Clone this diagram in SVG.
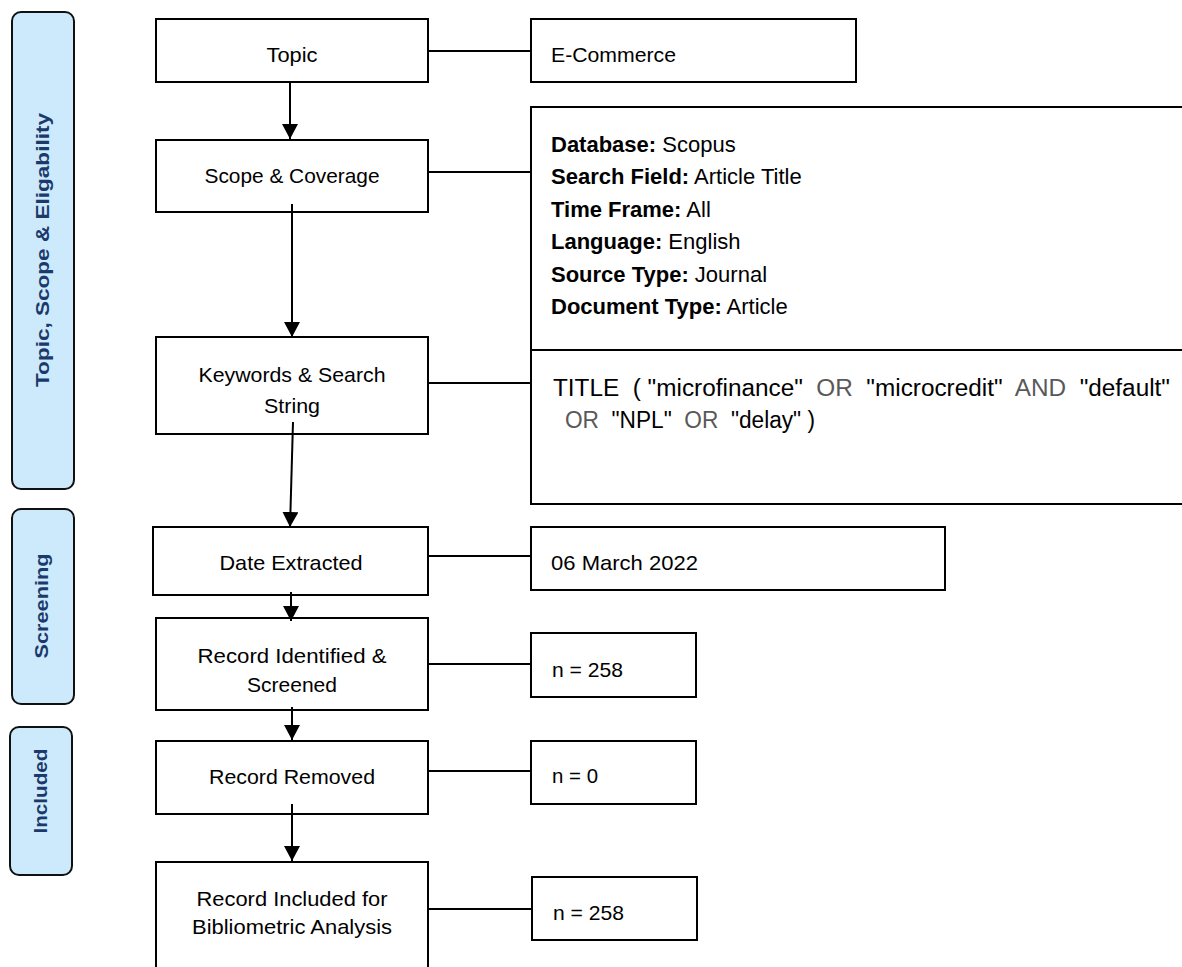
<svg xmlns="http://www.w3.org/2000/svg" width="1182" height="967" viewBox="0 0 1182 967">
<style>
.box{fill:#fff;stroke:#000;stroke-width:2}
.lab{fill:#cdeafc;stroke:#111;stroke-width:2}
.t{font-family:"Liberation Sans",Arial,sans-serif;font-size:21px;fill:#000}
.d{font-family:"Liberation Sans",Arial,sans-serif;font-size:22px;fill:#000}
.k{font-family:"Liberation Sans",Arial,sans-serif;font-size:23px;fill:#000}
.c{text-anchor:middle}
.b{font-weight:bold}
.g{fill:#595959}
.lt{font-family:"Liberation Sans",Arial,sans-serif;font-weight:bold;font-size:19px;fill:#1b3a6b;text-anchor:middle}
.conn line{stroke:#000;stroke-width:2;fill:none}
</style>
<defs>
<marker id="ah" viewBox="0 0 15 16" refX="15" refY="8" markerWidth="15" markerHeight="16" markerUnits="userSpaceOnUse" orient="auto">
<path d="M0,0 L15,8 L0,16 z" fill="#000"/>
</marker>
</defs>
<rect x="0" y="0" width="1182" height="967" fill="#fff"/>

<g id="label-topic">
<rect class="lab" x="12" y="12" width="62" height="477" rx="9"/>
<text class="lt" transform="translate(49,250) rotate(-90)" textLength="274" lengthAdjust="spacingAndGlyphs">Topic, Scope &amp; Eligability</text>
</g>
<g id="label-screening">
<rect class="lab" x="12" y="509" width="62" height="195" rx="9"/>
<text class="lt" transform="translate(48,606) rotate(-90)" textLength="105" lengthAdjust="spacingAndGlyphs">Screening</text>
</g>
<g id="label-included">
<rect class="lab" x="10" y="727" width="62" height="148" rx="9"/>
<text class="lt" transform="translate(47,791) rotate(-90)" textLength="85" lengthAdjust="spacingAndGlyphs">Included</text>
</g>

<g id="topic">
<rect class="box" x="156" y="19" width="272" height="63"/>
<text class="t c" x="292" y="62" textLength="51" lengthAdjust="spacingAndGlyphs">Topic</text>
</g>
<g id="ecommerce">
<rect class="box" x="531" y="19" width="325" height="63"/>
<text class="t" x="551" y="62" textLength="125" lengthAdjust="spacingAndGlyphs">E-Commerce</text>
</g>
<g id="scope">
<rect class="box" x="156" y="140" width="272" height="72"/>
<text class="t c" x="292" y="183" textLength="175" lengthAdjust="spacingAndGlyphs">Scope &amp; Coverage</text>
</g>
<g id="database">
<rect class="box" x="531" y="107" width="700" height="243"/>
<text class="d" x="551" y="152"><tspan class="b">Database:</tspan> Scopus</text>
<text class="d" x="551" y="184"><tspan class="b">Search Field:</tspan> Article Title</text>
<text class="d" x="551" y="217"><tspan class="b">Time Frame:</tspan> All</text>
<text class="d" x="551" y="249"><tspan class="b">Language:</tspan> English</text>
<text class="d" x="551" y="282"><tspan class="b">Source Type:</tspan> Journal</text>
<text class="d" x="551" y="314"><tspan class="b">Document Type:</tspan> Article</text>
</g>
<g id="keywords">
<rect class="box" x="156" y="337" width="272" height="97"/>
<text class="t c" x="292" y="382" textLength="187" lengthAdjust="spacingAndGlyphs">Keywords &amp; Search</text>
<text class="t c" x="292" y="413" textLength="56" lengthAdjust="spacingAndGlyphs">String</text>
</g>
<g id="search-string">
<rect class="box" x="531" y="350" width="700" height="154"/>
<text class="k" x="553" y="396" xml:space="preserve" textLength="617" lengthAdjust="spacingAndGlyphs">TITLE  ( "microfinance"  <tspan class="g">OR</tspan>  "microcredit"  <tspan class="g">AND</tspan>  "default"</text>
<text class="k" x="565" y="428" xml:space="preserve" textLength="250" lengthAdjust="spacingAndGlyphs"><tspan class="g">OR</tspan>  "NPL"  <tspan class="g">OR</tspan>  "delay" )</text>
</g>
<g id="date-extracted">
<rect class="box" x="153" y="527" width="275" height="68"/>
<text class="t c" x="291" y="570" textLength="143" lengthAdjust="spacingAndGlyphs">Date Extracted</text>
</g>
<g id="date">
<rect class="box" x="531" y="527" width="414" height="63"/>
<text class="t" x="551" y="570" textLength="147" lengthAdjust="spacingAndGlyphs">06 March 2022</text>
</g>
<g id="identified">
<rect class="box" x="156" y="618" width="272" height="92"/>
<text class="t c" x="292" y="663" textLength="189" lengthAdjust="spacingAndGlyphs">Record Identified &amp;</text>
<text class="t c" x="292" y="692" textLength="90" lengthAdjust="spacingAndGlyphs">Screened</text>
</g>
<g id="n-identified">
<rect class="box" x="531" y="633" width="165" height="64"/>
<text class="t" x="552" y="677" textLength="71" lengthAdjust="spacingAndGlyphs">n = 258</text>
</g>
<g id="removed">
<rect class="box" x="156" y="741" width="272" height="73"/>
<text class="t c" x="292" y="784" textLength="166" lengthAdjust="spacingAndGlyphs">Record Removed</text>
</g>
<g id="n-removed">
<rect class="box" x="531" y="741" width="165" height="63"/>
<text class="t" x="552" y="783" textLength="46" lengthAdjust="spacingAndGlyphs">n = 0</text>
</g>
<g id="included">
<rect class="box" x="156" y="862" width="272" height="115"/>
<text class="t c" x="292" y="906" textLength="191" lengthAdjust="spacingAndGlyphs">Record Included for</text>
<text class="t c" x="292" y="934" textLength="200" lengthAdjust="spacingAndGlyphs">Bibliometric Analysis</text>
</g>
<g id="n-included">
<rect class="box" x="532" y="877" width="165" height="63"/>
<text class="t" x="553" y="920" textLength="71" lengthAdjust="spacingAndGlyphs">n = 258</text>
</g>

<g id="connectors" class="conn">
<line x1="428" y1="51" x2="531" y2="51"/>
<line x1="428" y1="172" x2="531" y2="172"/>
<line x1="428" y1="383" x2="531" y2="383"/>
<line x1="428" y1="556" x2="531" y2="556"/>
<line x1="428" y1="664" x2="531" y2="664"/>
<line x1="428" y1="771" x2="531" y2="771"/>
<line x1="428" y1="909" x2="532" y2="909"/>
<line x1="290" y1="82" x2="290" y2="139" marker-end="url(#ah)"/>
<line x1="292" y1="204" x2="292" y2="337" marker-end="url(#ah)"/>
<line x1="293" y1="422" x2="290" y2="527" marker-end="url(#ah)"/>
<line x1="291" y1="592" x2="291" y2="621" marker-end="url(#ah)"/>
<line x1="292" y1="707" x2="292" y2="740" marker-end="url(#ah)"/>
<line x1="292" y1="804" x2="292" y2="861" marker-end="url(#ah)"/>
</g>
</svg>
